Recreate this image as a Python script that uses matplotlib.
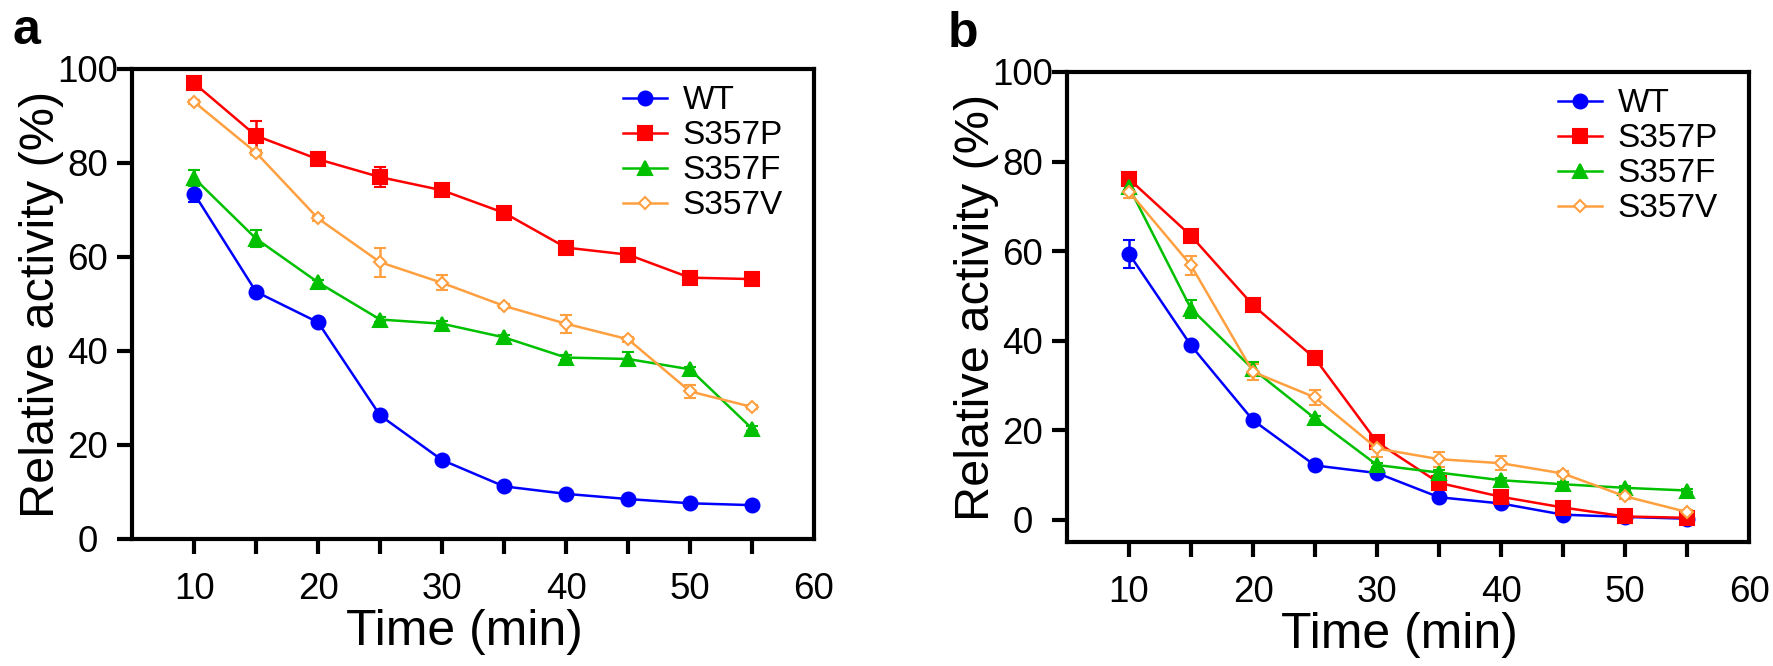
import numpy as np
import matplotlib
matplotlib.use("Agg")
import matplotlib.pyplot as plt

plt.rcParams['font.family'] = ['Liberation Sans', 'DejaVu Sans']

# Time points (min)
time = [10, 15, 20, 25, 30, 35, 40, 45, 50, 55]
labels = ["WT", "S357P", "S357F", "S357V"]

# panel a
a_wt = [73.5, 52.6, 46.1, 26.3, 16.8, 11.2, 9.6, 8.5, 7.6, 7.2]
a_wt_err = [1.8, 0.8, 0.6, 0.6, 0.5, 0.4, 0.3, 0.3, 0.3, 0.3]
a_p = [97.0, 85.8, 80.8, 77.0, 74.2, 69.4, 62.0, 60.5, 55.6, 55.3]
a_p_err = [0.6, 3.2, 1.2, 2.1, 0.6, 0.6, 0.5, 0.5, 0.5, 0.4]
a_f = [76.8, 63.9, 54.6, 46.7, 45.8, 42.9, 38.6, 38.3, 36.1, 23.5]
a_f_err = [1.8, 1.8, 0.6, 0.5, 0.5, 0.5, 0.5, 1.4, 0.5, 0.5]
a_v = [93.0, 82.2, 68.2, 58.9, 54.5, 49.6, 45.8, 42.5, 31.4, 28.1]
a_v_err = [0.5, 0.6, 0.5, 3.1, 1.6, 0.5, 1.9, 0.5, 1.4, 0.5]

# panel b
b_wt = [59.4, 38.9, 22.2, 12.1, 10.4, 5.0, 3.6, 1.1, 0.6, 0.2]
b_wt_err = [3.1, 0.6, 0.5, 0.5, 0.5, 0.5, 0.5, 0.3, 0.3, 0.3]
b_p = [76.1, 63.4, 47.9, 36.0, 17.3, 8.2, 5.1, 2.7, 0.7, 0.4]
b_p_err = [0.6, 0.6, 0.6, 0.6, 0.6, 0.6, 1.2, 0.4, 0.3, 0.3]
b_f = [74.3, 47.1, 33.6, 22.6, 12.2, 10.5, 8.8, 7.9, 7.1, 6.5]
b_f_err = [0.6, 2.0, 1.5, 0.5, 0.5, 0.5, 0.5, 0.4, 0.4, 0.4]
b_v = [73.3, 56.8, 33.0, 27.3, 15.9, 13.5, 12.6, 10.3, 5.2, 1.7]
b_v_err = [1.5, 2.2, 1.8, 1.6, 2.0, 1.7, 1.6, 0.5, 0.5, 0.5]

colors = ["#0000FF", "#FF0000", "#00C000", "#FFA040"]
markers = ["o", "s", "^", "D"]
msizes = [10, 9.5, 10, 6.5]


def plotPanel(ax, series, errs, ylim, letter):
    for y, e, c, m, ms, lab in zip(series, errs, colors, markers, msizes, labels):
        face = "white" if m == "D" else c
        ax.errorbar(time, y, yerr=e, color=c, lw=1.8, marker=m,
                    markersize=ms, markerfacecolor=face,
                    markeredgecolor=c, markeredgewidth=1.5,
                    capsize=4.5, capthick=1.8, elinewidth=1.8,
                    label=lab)

    ax.set_xlim(5, 60)
    ax.set_ylim(*ylim)
    ax.set_xticks(np.arange(10, 61, 5))
    ax.set_xticklabels([str(t) if t % 10 == 0 else "" for t in range(10, 61, 5)])
    ax.xaxis.get_major_ticks()[-1].tick1line.set_visible(False)
    ax.set_yticks(np.arange(0, 101, 20))

    for s in ax.spines.values():
        s.set_linewidth(3)
    ax.tick_params(axis="both", direction="out", length=11, width=3,
                   labelsize=26.5)
    ax.tick_params(axis="x", pad=13)
    ax.tick_params(axis="y", pad=21)
    plt.setp(ax.get_yticklabels(), ha="center")

    ax.set_xlabel("Time (min)", fontsize=36)
    ax.xaxis.set_label_coords(0.487, -0.148)
    ax.set_ylabel("Relative activity (%)", fontsize=35)
    ax.yaxis.set_label_coords(-0.10, 0.5)

    handles, labs = ax.get_legend_handles_labels()
    handles = [h[0] for h in handles]
    ax.legend(handles, labs, loc="upper left", bbox_to_anchor=(0.72, 0.965),
              frameon=False, fontsize=24, handlelength=1.33,
              handletextpad=0.45, labelspacing=0.12, borderpad=0,
              borderaxespad=0)

    ax.text(-0.175, 1.13, letter, transform=ax.transAxes, fontsize=36,
            fontweight="bold", va="top", ha="left")


fig = plt.figure(figsize=(17.73, 6.66), dpi=100)
ax1 = fig.add_axes([0.0745, 0.1907, 0.3846, 0.7057])
ax2 = fig.add_axes([0.6018, 0.1862, 0.3847, 0.7057])

plotPanel(ax1, [a_wt, a_p, a_f, a_v], [a_wt_err, a_p_err, a_f_err, a_v_err],
          (0, 100), "a")
plotPanel(ax2, [b_wt, b_p, b_f, b_v], [b_wt_err, b_p_err, b_f_err, b_v_err],
          (-5, 100), "b")

fig.savefig("out.png", dpi=100)
